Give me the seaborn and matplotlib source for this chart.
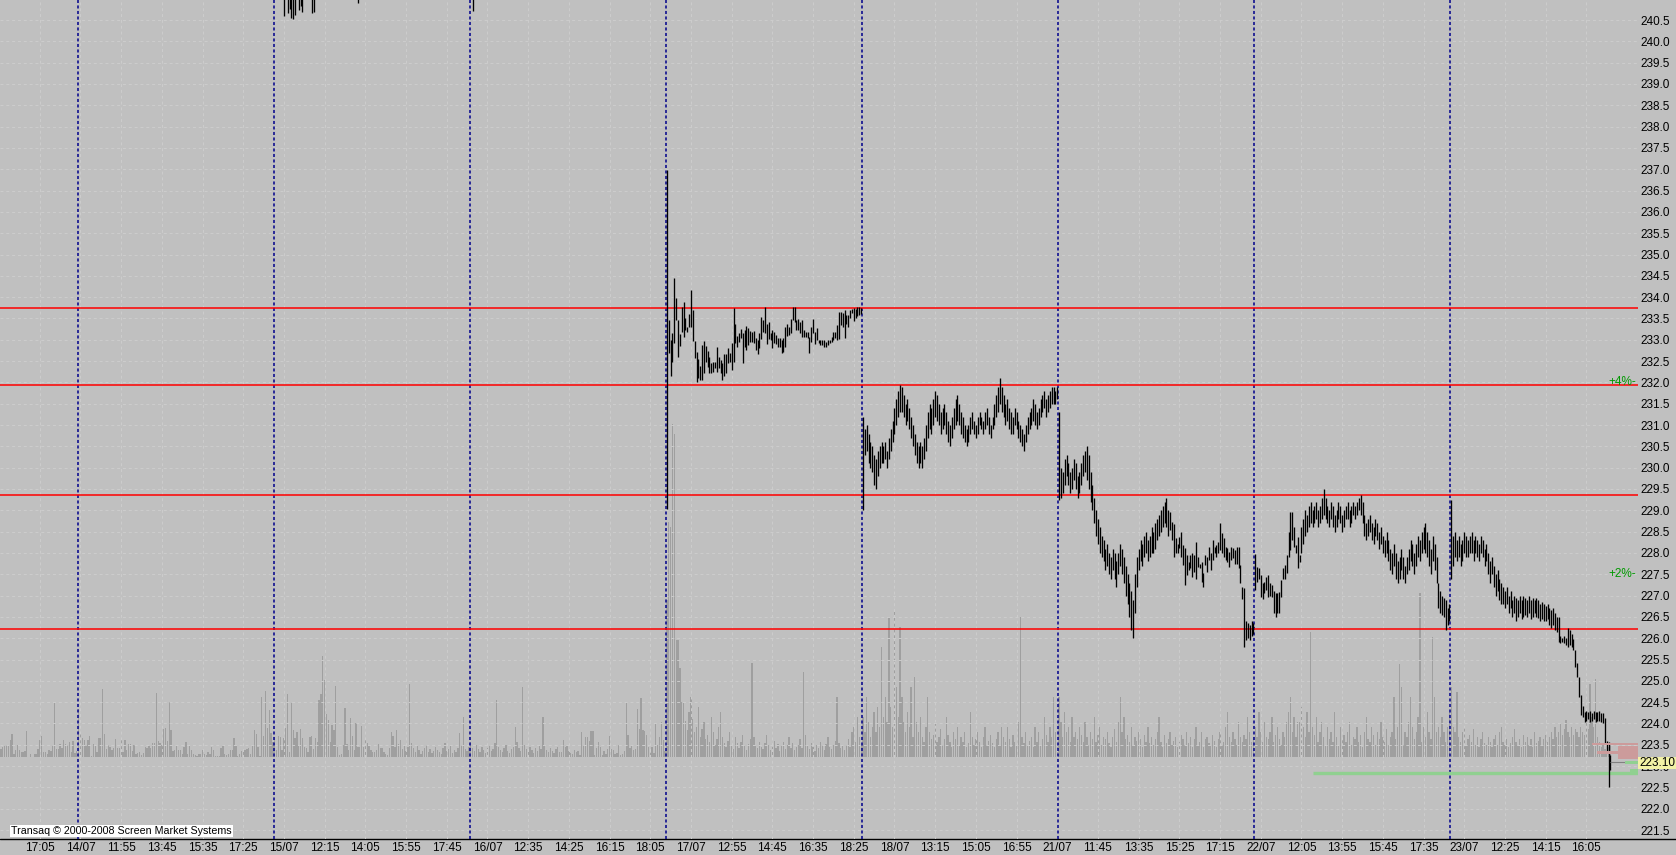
import numpy as np
import pandas as pd
import seaborn as sns
import matplotlib.pyplot as plt
from matplotlib.patches import Rectangle
from matplotlib.lines import Line2D
import matplotlib.transforms as mtransforms

# trading days shown (5 minute bars) and number of bars in each
day_names = ['11/07', '14/07', '15/07', '16/07', '17/07', '18/07', '21/07', '22/07', '23/07']
day_bars = [42, 106, 106, 106, 106, 106, 106, 106, 87]

# high / low of each 5 minute bar (days 11/07 .. 16/07 trade above the visible range)
bars_1707 = [(236.98, 229.02), (233.46, 232.70), (232.99, 232.15), (233.17, 232.49), (234.44, 232.93),
             (233.97, 233.46), (233.46, 232.60), (233.13, 232.86), (233.78, 233.19), (233.89, 233.06),
             (233.50, 233.23), (233.31, 233.19), (233.60, 233.31), (234.17, 233.31), (233.71, 232.97),
             (232.97, 232.58), (232.72, 232.00), (232.55, 232.11), (232.38, 232.05), (232.88, 232.05),
             (232.97, 232.21), (232.85, 232.48), (232.73, 232.35), (232.60, 232.23), (232.45, 232.23),
             (232.48, 232.25), (232.48, 232.33), (232.82, 232.25), (232.60, 232.33), (232.52, 232.21),
             (232.45, 232.05), (232.67, 232.16), (232.67, 232.21), (232.80, 232.45), (232.68, 232.47),
             (232.92, 232.29), (233.74, 232.49), (233.38, 232.92), (233.10, 232.84), (233.17, 232.95),
             (233.26, 233.03), (233.15, 232.45), (233.23, 232.84), (233.32, 232.76), (233.27, 232.88),
             (233.21, 232.95), (233.19, 232.94), (233.21, 232.92), (233.03, 232.76), (232.99, 232.66),
             (233.17, 232.80), (233.54, 233.01), (233.46, 233.19), (233.78, 233.17), (233.38, 232.90),
             (233.42, 233.01), (233.17, 232.99), (233.23, 232.80), (233.19, 232.93), (233.11, 232.90),
             (233.03, 232.84), (233.03, 232.82), (232.99, 232.68), (233.03, 232.72), (233.31, 232.84),
             (233.38, 233.09), (233.31, 233.11), (233.48, 233.15), (233.78, 233.46), (233.78, 233.42),
             (233.46, 233.23), (233.48, 233.23), (233.42, 233.15), (233.46, 233.07), (233.23, 233.07),
             (233.19, 233.07), (233.19, 233.03), (233.07, 232.68), (233.31, 232.95), (233.48, 233.17),
             (233.19, 232.90), (233.27, 232.99), (232.99, 232.92), (232.99, 232.88), (232.99, 232.88),
             (232.99, 232.84), (232.95, 232.84), (232.99, 232.88), (232.99, 232.92), (233.07, 232.95),
             (233.18, 232.99), (233.19, 233.03), (233.35, 232.99), (233.66, 233.01), (233.66, 233.35),
             (233.62, 233.31), (233.70, 233.03), (233.58, 233.38), (233.58, 233.31), (233.70, 233.50),
             (233.72, 233.62), (233.75, 233.45), (233.72, 233.50), (233.78, 233.55), (233.76, 233.58),
             (233.74, 233.60)]

bars_1807 = [(231.2, 229.0), (230.9, 230.3), (231.0, 230.4), (230.8, 230.1), (230.6, 230.0),
             (230.5, 229.9), (230.3, 229.6), (230.2, 229.5), (230.4, 229.8), (230.5, 230.0),
             (230.6, 230.1), (230.5, 230.1), (230.6, 230.2), (230.4, 230.0), (230.7, 230.2),
             (230.9, 230.4), (231.1, 230.6), (231.4, 230.8), (231.6, 231.0), (231.8, 231.2),
             (231.95, 231.3), (231.9, 231.3), (231.7, 231.2), (231.5, 231.0), (231.6, 231.1),
             (231.4, 230.9), (231.2, 230.7), (231.0, 230.5), (230.8, 230.3), (230.6, 230.1),
             (230.5, 230.0), (230.6, 230.1), (230.5, 230.0), (230.7, 230.2), (231.0, 230.4),
             (231.3, 230.7), (231.5, 230.9), (231.4, 230.8), (231.6, 231.0), (231.8, 231.2),
             (231.7, 231.1), (231.5, 231.0), (231.3, 230.8), (231.4, 230.9), (231.5, 231.0),
             (231.3, 230.8), (231.1, 230.6), (231.0, 230.5), (231.2, 230.7), (231.4, 230.9),
             (231.6, 231.0), (231.7, 231.1), (231.5, 231.0), (231.3, 230.8), (231.2, 230.7),
             (231.0, 230.6), (230.9, 230.5), (231.0, 230.6), (231.2, 230.8), (231.3, 230.9),
             (231.1, 230.8), (231.0, 230.7), (231.2, 230.8), (231.3, 231.0), (231.2, 230.9),
             (231.1, 230.8), (231.3, 230.9), (231.4, 231.0), (231.2, 230.8), (231.0, 230.7),
             (231.2, 230.9), (231.5, 231.0), (231.7, 231.2), (231.9, 231.3), (232.1, 231.5),
             (231.9, 231.3), (231.7, 231.2), (231.5, 231.0), (231.6, 231.1), (231.4, 230.9),
             (231.3, 230.8), (231.2, 230.8), (231.4, 231.0), (231.3, 230.9), (231.1, 230.7),
             (231.0, 230.6), (230.9, 230.5), (230.8, 230.4), (231.0, 230.6), (231.2, 230.8),
             (231.3, 230.9), (231.4, 231.0), (231.6, 231.1), (231.5, 231.0), (231.3, 230.9),
             (231.4, 231.0), (231.6, 231.2), (231.7, 231.3), (231.8, 231.4), (231.6, 231.2),
             (231.7, 231.3), (231.8, 231.4), (231.9, 231.5), (231.9, 231.5), (231.8, 231.5),
             (231.9, 231.6)]

bars_2107 = [(231.3, 229.25), (230.0, 229.3), (229.9, 229.4), (230.2, 229.6), (230.3, 229.8),
             (230.1, 229.6), (229.9, 229.4), (230.0, 229.5), (230.2, 229.7), (230.1, 229.5),
             (229.8, 229.3), (229.9, 229.4), (230.1, 229.6), (230.3, 229.8), (230.4, 229.9),
             (230.5, 229.7), (230.3, 229.5), (229.9, 229.2), (229.6, 229.0), (229.3, 228.7),
             (229.0, 228.4), (228.8, 228.2), (228.6, 228.0), (228.4, 227.9), (228.3, 227.8),
             (228.1, 227.6), (228.2, 227.7), (228.0, 227.5), (227.9, 227.4), (228.1, 227.6),
             (228.0, 227.4), (227.8, 227.2), (228.0, 227.5), (228.2, 227.7), (228.1, 227.5),
             (227.9, 227.3), (227.7, 227.0), (227.5, 226.8), (227.3, 226.5), (227.1, 226.2),
             (226.9, 226.0), (227.5, 226.6), (227.9, 227.2), (228.1, 227.6), (228.3, 227.8),
             (228.2, 227.7), (228.4, 227.9), (228.5, 228.0), (228.3, 227.8), (228.4, 227.9),
             (228.6, 228.0), (228.5, 228.0), (228.7, 228.1), (228.8, 228.3), (228.9, 228.4),
             (229.0, 228.5), (229.1, 228.6), (229.2, 228.7), (229.3, 228.6), (229.0, 228.4),
             (228.97, 228.54), (228.73, 228.30), (228.69, 227.91), (228.34, 227.99), (228.22, 227.99),
             (228.38, 228.11), (228.50, 227.91), (228.19, 227.72), (228.11, 227.25), (227.95, 227.48),
             (227.79, 227.60), (227.95, 227.64), (227.99, 227.44), (227.95, 227.56), (228.26, 227.40),
             (227.91, 227.68), (227.75, 227.64), (227.79, 227.33), (227.52, 227.21), (227.95, 227.72),
             (227.91, 227.56), (228.15, 227.83), (227.99, 227.60), (228.30, 227.83), (228.15, 227.99),
             (228.19, 227.91), (228.26, 227.99), (228.71, 228.07), (228.46, 227.99), (228.34, 227.91),
             (228.15, 227.83), (228.11, 227.79), (228.03, 227.68), (228.15, 227.83), (228.11, 227.87),
             (228.07, 227.75), (228.15, 227.75), (228.15, 227.64), (227.72, 227.29), (227.21, 226.93),
             (227.17, 225.80), (226.40, 225.95), (226.35, 226.00), (226.30, 225.95), (226.40, 226.05),
             (226.35, 226.10)]

bars_2207 = [(227.97, 227.13), (227.68, 227.33), (227.64, 227.40), (227.48, 226.97), (227.29, 226.93),
             (227.33, 227.05), (227.44, 227.13), (227.48, 226.97), (227.30, 227.00), (227.25, 226.97),
             (227.10, 226.60), (227.05, 226.50), (227.07, 226.60), (227.09, 226.60), (227.36, 226.97),
             (227.64, 227.40), (227.72, 227.40), (227.95, 227.52), (228.50, 227.91), (228.97, 228.07),
             (228.97, 228.30), (228.60, 228.15), (228.19, 227.99), (228.38, 227.64), (227.95, 227.79),
             (228.6, 228.0), (228.8, 228.2), (229.0, 228.4), (228.9, 228.5), (229.1, 228.6),
             (229.2, 228.7), (229.0, 228.6), (229.1, 228.7), (229.2, 228.8), (229.0, 228.6),
             (229.1, 228.7), (229.3, 228.8), (229.5, 228.9), (229.3, 228.8), (229.1, 228.7),
             (229.0, 228.6), (229.2, 228.8), (229.1, 228.6), (228.9, 228.5), (229.0, 228.6),
             (229.2, 228.8), (229.1, 228.7), (228.9, 228.5), (229.0, 228.6), (229.1, 228.8),
             (229.2, 228.8), (229.0, 228.6), (229.1, 228.7), (229.2, 228.9), (229.1, 228.8),
             (229.2, 228.9), (229.3, 229.0), (229.35, 228.9), (229.2, 228.7), (228.9, 228.4),
             (228.7, 228.3), (228.8, 228.4), (228.9, 228.5), (228.7, 228.3), (228.6, 228.2),
             (228.8, 228.4), (228.7, 228.3), (228.5, 228.1), (228.6, 228.2), (228.4, 228.0),
             (228.3, 227.9), (228.5, 228.0), (228.3, 227.8), (228.1, 227.6), (228.0, 227.5),
             (228.2, 227.7), (228.0, 227.4), (227.8, 227.3), (227.9, 227.4), (228.1, 227.6),
             (227.9, 227.4), (227.7, 227.3), (227.9, 227.5), (228.1, 227.6), (228.3, 227.8),
             (228.2, 227.7), (228.0, 227.5), (228.2, 227.7), (228.4, 227.9), (228.3, 227.8),
             (228.5, 228.0), (228.6, 228.1), (228.7, 228.0), (228.5, 227.9), (228.3, 227.7),
             (228.1, 227.5), (228.4, 227.8), (228.2, 227.6), (227.9, 227.3), (227.3, 226.7),
             (227.1, 226.6), (227.0, 226.55), (226.95, 226.5), (226.9, 226.2), (226.7, 226.3),
             (226.8, 226.4)]

bars_2307 = [(229.25, 227.4), (228.4, 227.7), (228.5, 227.9), (228.3, 227.8), (228.4, 227.9),
             (228.2, 227.7), (228.3, 227.8), (228.5, 228.0), (228.4, 227.9), (228.3, 227.9),
             (228.4, 228.0), (228.5, 228.0), (228.3, 227.8), (228.4, 228.0), (228.3, 227.9),
             (228.2, 227.8), (228.4, 228.0), (228.3, 227.9), (228.1, 227.7), (228.2, 227.8),
             (228.0, 227.5), (227.8, 227.3), (227.9, 227.5), (227.7, 227.2), (227.5, 227.0),
             (227.6, 227.1), (227.4, 226.9), (227.3, 226.8), (227.2, 226.8), (227.1, 226.7),
             (227.2, 226.8), (227.0, 226.6), (227.1, 226.7), (226.9, 226.5), (227.0, 226.6),
             (226.95, 226.4), (226.9, 226.5), (227.0, 226.6), (226.9, 226.45), (227.0, 226.5),
             (226.95, 226.55), (226.9, 226.5), (227.0, 226.6), (226.9, 226.45), (226.95, 226.5),
             (226.9, 226.6), (226.95, 226.5), (226.9, 226.47), (226.8, 226.4), (226.85, 226.45),
             (226.8, 226.4), (226.75, 226.4), (226.8, 226.45), (226.7, 226.3), (226.65, 226.25),
             (226.7, 226.3), (226.6, 226.2), (226.5, 226.15), (226.5, 225.92), (226.04, 225.88),
             (226.0, 225.9), (226.04, 225.88), (226.0, 225.85), (226.23, 225.8), (226.2, 225.85),
             (226.1, 225.8), (225.99, 225.72), (225.72, 225.33), (225.41, 225.1), (225.1, 224.63),
             (224.67, 224.2), (224.4, 224.16), (224.28, 224.04), (224.3, 224.05), (224.28, 224.1),
             (224.3, 224.04), (224.25, 224.05), (224.3, 224.1), (224.28, 224.04), (224.27, 224.06),
             (224.3, 224.05), (224.25, 224.04), (224.24, 224.0), (224.12, 223.53), (223.6, 223.3),
             (223.57, 222.5), (223.26, 222.91)]

# bars of 15/07 and 16/07 whose low just reaches the top of the window: {bar of day: low}
tops_1507 = {5: 240.60, 7: 240.66, 8: 240.75, 9: 240.54, 10: 240.52, 11: 240.62, 13: 240.73,
             14: 240.83, 15: 240.70, 20: 240.67, 21: 240.70, 45: 240.91}
tops_1607 = {1: 240.72}

# volume of each bar
vol_1107 = [8, 10, 11, 12, 12, 17, 23, 3, 7, 12, 7, 5, 5, 6, 26, 0, 3, 0, 3, 3, 8, 17, 21, 5, 5, 3, 7, 6, 11, 54,
            8, 8, 13, 9, 17, 13, 12, 15, 5, 16, 4, 6]
vol_1407 = [48, 25, 19, 17, 11, 17, 21, 1, 13, 11, 5, 19, 19, 68, 23, 8, 12, 10, 7, 9, 18, 9, 9, 17, 5, 17, 7, 13,
            13, 6, 12, 3, 4, 5, 2, 4, 10, 9, 11, 9, 14, 14, 64, 16, 14, 12, 28, 29, 16, 55, 27, 6, 7, 11, 7, 7, 3,
            10, 15, 3, 11, 7, 3, 2, 1, 3, 3, 7, 3, 2, 5, 3, 10, 7, 1, 1, 1, 9, 12, 3, 2, 3, 7, 7, 19, 11, 1, 3, 6,
            6, 7, 8, 9, 3, 11, 27, 23, 10, 1, 60, 21, 66, 29, 47, 24, 15]
vol_1507 = [20, 7, 21, 20, 7, 19, 29, 63, 5, 54, 27, 19, 25, 11, 28, 19, 10, 9, 5, 20, 21, 8, 19, 15, 57, 63, 101,
            77, 43, 37, 15, 32, 27, 71, 10, 2, 3, 12, 49, 13, 7, 39, 21, 7, 34, 10, 10, 31, 10, 17, 14, 12, 7, 5,
            5, 7, 13, 9, 9, 5, 3, 2, 9, 25, 21, 10, 27, 13, 17, 8, 12, 6, 10, 73, 14, 9, 5, 11, 7, 3, 6, 9, 12, 5,
            8, 4, 6, 10, 7, 5, 3, 9, 14, 6, 8, 11, 4, 7, 5, 9, 24, 12, 40, 8, 6, 10]
vol_1607 = [15, 9, 6, 12, 8, 5, 10, 7, 4, 9, 11, 6, 8, 14, 57, 10, 7, 5, 9, 12, 6, 4, 8, 10, 30, 15, 9, 6, 70, 12,
            8, 5, 10, 7, 4, 9, 6, 11, 8, 40, 12, 7, 5, 9, 6, 4, 8, 10, 5, 5, 17, 10, 11, 6, 4, 3, 7, 5, 6, 2, 25,
            11, 20, 20, 16, 26, 26, 2, 9, 15, 10, 2, 6, 3, 8, 21, 8, 7, 3, 4, 12, 2, 3, 6, 55, 22, 9, 12, 7, 8, 48,
            28, 59, 27, 26, 22, 10, 4, 10, 4, 33, 12, 20, 35, 17, 6]
vol_1707 = [157, 235, 230, 333, 323, 117, 117, 89, 55, 55, 36, 27, 45, 60, 38, 25, 30, 50, 20, 28, 35, 18, 22, 15,
            40, 25, 12, 18, 30, 45, 20, 14, 10, 16, 25, 12, 8, 20, 14, 9, 15, 22, 11, 7, 13, 18, 94, 20, 12, 9, 15,
            10, 8, 14, 22, 12, 7, 10, 16, 9, 13, 6, 11, 15, 8, 12, 20, 9, 14, 7, 10, 12, 18, 9, 85, 22, 11, 8, 14,
            10, 6, 12, 9, 15, 11, 7, 13, 20, 10, 8, 12, 16, 60, 14, 9, 11, 7, 12, 18, 10, 25, 30, 15, 40, 20, 12]
vol_1807 = [40, 25, 60, 35, 20, 30, 45, 25, 50, 30, 110, 40, 60, 35, 140, 50, 30, 145, 70, 40, 130, 60, 35, 25,
            45, 30, 70, 20, 80, 35, 25, 40, 20, 15, 30, 60, 25, 18, 22, 35, 15, 20, 28, 12, 18, 40, 22, 15, 10, 25,
            18, 30, 12, 20, 15, 25, 10, 14, 45, 20, 12, 18, 25, 15, 10, 20, 30, 12, 16, 22, 14, 10, 18, 25, 12, 30,
            20, 15, 30, 18, 10, 22, 15, 12, 35, 140, 20, 14, 25, 12, 16, 20, 10, 30, 15, 25, 12, 18, 40, 22, 15, 30,
            20, 60, 25, 10]
vol_2107 = [60, 35, 20, 45, 25, 30, 15, 40, 20, 25, 18, 30, 22, 15, 35, 20, 12, 25, 18, 40, 15, 22, 30, 12, 20,
            18, 25, 14, 10, 20, 28, 15, 35, 60, 25, 40, 18, 22, 15, 30, 12, 20, 16, 25, 18, 10, 22, 15, 30, 14, 20,
            12, 18, 25, 40, 15, 10, 22, 14, 18, 25, 12, 16, 20, 10, 15, 22, 18, 12, 25, 14, 20, 10, 18, 30, 12, 15,
            25, 10, 18, 20, 14, 12, 22, 16, 10, 18, 25, 12, 15, 30, 45, 20, 15, 25, 18, 12, 35, 20, 15, 22, 18, 40,
            25, 15, 20]
vol_2207 = [30, 20, 45, 25, 15, 35, 20, 18, 25, 40, 15, 22, 30, 18, 12, 25, 20, 35, 45, 60, 25, 40, 20, 35, 35,
            50, 30, 20, 45, 25, 125, 30, 22, 40, 15, 25, 35, 20, 12, 30, 18, 25, 15, 45, 20, 12, 30, 18, 22, 15, 25,
            35, 12, 20, 18, 30, 15, 22, 10, 25, 40, 18, 15, 30, 22, 12, 25, 18, 35, 20, 15, 28, 12, 20, 25, 60, 18,
            30, 93, 70, 12, 25, 20, 35, 60, 30, 18, 25, 40, 164, 15, 30, 20, 45, 25, 18, 120, 60, 25, 30, 20, 40, 25,
            15, 30, 45]
vol_2307 = [70, 30, 25, 65, 20, 15, 25, 30, 12, 18, 22, 15, 28, 12, 20, 10, 18, 25, 14, 12, 20, 15, 10, 18, 22,
            12, 25, 30, 15, 12, 18, 10, 14, 20, 28, 15, 12, 18, 10, 22, 15, 20, 12, 18, 10, 25, 14, 16, 20, 12, 18,
            22, 15, 20, 25, 18, 30, 20, 25, 34, 22, 28, 37, 25, 20, 30, 22, 28, 25, 20, 30, 25, 22, 35, 28, 73, 40,
            30, 78, 20, 15, 10, 12, 8, 6, 10, 12]

# x axis labels, one every 22 bars
tick_labels = ['17:05', '14/07', '11:55', '13:45', '15:35', '17:25', '15/07', '12:15', '14:05', '15:55', '17:45',
               '16/07', '12:35', '14:25', '16:15', '18:05', '17/07', '12:55', '14:45', '16:35', '18:25', '18/07',
               '13:15', '15:05', '16:55', '21/07', '11:45', '13:35', '15:25', '17:15', '22/07', '12:05', '13:55',
               '15:45', '17:35', '23/07', '12:25', '14:15', '16:05']

# horizontal levels
red_levels = [233.74, 231.93, 229.35, 226.21]
green_level = 222.83
green_from_bar = 709
last_price = 223.10
pct_marks = {'+4%-': 232.0, '+2%-': 227.5}
# order book at the right edge: price -> size
book_ask = {223.52: 46, 223.45: 20, 223.40: 20, 223.35: 20, 223.32: 41, 223.25: 20, 223.20: 20}
book_bid = {223.08: 13, 222.90: 8}

# ---- build tables ----
starts = np.concatenate([[0], np.cumsum(day_bars)[:-1]])
start_of = dict(zip(day_names, starts))

price_rows = []
for day, bars in [('17/07', bars_1707), ('18/07', bars_1807), ('21/07', bars_2107),
                  ('22/07', bars_2207), ('23/07', bars_2307)]:
    for k, (h, l) in enumerate(bars):
        price_rows.append((start_of[day] + k, h, l))
for day, tops in [('15/07', tops_1507), ('16/07', tops_1607)]:
    for k, l in tops.items():
        price_rows.append((start_of[day] + k, 242.0, l))
price = pd.DataFrame(price_rows, columns=['bar', 'high', 'low'])

vols = vol_1107 + vol_1407 + vol_1507 + vol_1607 + vol_1707 + vol_1807 + vol_2107 + vol_2207 + vol_2307
volume = pd.DataFrame({'bar': np.arange(len(vols)), 'vol': vols})

# ---- figure ----
W, H = 1676, 855
plot_w, plot_h, bottom_px = 1638, 839, 16
bar_px = 1.85
bg = '#c0c0c0'

sns.set_style('white')
plt.rcParams['font.family'] = ['Liberation Sans', 'DejaVu Sans']

fig = plt.figure(figsize=(W / 100, H / 100), dpi=100, facecolor=bg)
ax = fig.add_axes([0, bottom_px / H, plot_w / W, plot_h / H])
ax_vol = ax.twinx()
ax.set_zorder(2)
ax_vol.set_zorder(1)
ax.patch.set_visible(False)
ax_vol.patch.set_facecolor(bg)

# volume
sns.barplot(data=volume, x='bar', y='vol', native_scale=True, orient='x', ax=ax_vol,
            color='#9f9f9f', saturation=1, width=0.7, linewidth=0, errorbar=None)
base_px = plot_h - 756.7
ax_vol.set_ylim(-base_px, plot_h - base_px)
ax_vol.set_yticks([])
ax_vol.set_ylabel('')
ax_vol.set_xlabel('')
for s in ax_vol.spines.values():
    s.set_visible(False)

# grid
x_min, x_max = -0.5, plot_w / bar_px - 0.5
ax.set_xlim(x_min, x_max)
ax.set_ylim(221.29, 240.97)
ax.set_yticks(np.arange(221.5, 240.51, 0.5))
ax.set_yticklabels(['%.1f' % v for v in np.arange(221.5, 240.51, 0.5)])
ax.set_xticks(21 + 22 * np.arange(len(tick_labels)))
ax.set_xticklabels(tick_labels)
ax.grid(True, color='#cdcdcd', linestyle=(0, (3, 3)), linewidth=0.7)
ax.set_axisbelow(True)
ax.yaxis.tick_right()
ax.tick_params(axis='y', length=0, pad=1.5, labelsize=8.5, colors='black')
ax.tick_params(axis='x', length=0, pad=2.5, labelsize=8.5, colors='black')
for s in ax.spines.values():
    s.set_visible(False)

# day separators
for st in starts[1:]:
    ax.axvline(st - 0.5, color='#00008b', linestyle=(0, (2, 1.6)), linewidth=1.1, zorder=3)

# horizontal levels
for lv in red_levels:
    ax.axhline(lv, color='#ff0000', linewidth=1.1, zorder=3)
ax.hlines(green_level, green_from_bar, x_max, color='#90d090', linewidth=2.4, zorder=3)

# price bars
ax.vlines(price['bar'], price['low'], price['high'], color='black', linewidth=0.95, zorder=4)

# last price line
last_bar = len(vols) - 1
ax.hlines(last_price, last_bar, x_max, color='#808080', linewidth=0.8, zorder=4)

# order book blocks on the right edge
blend = mtransforms.blended_transform_factory(ax.transAxes, ax.transData)
for p, sz in book_ask.items():
    ax.add_patch(Rectangle((1 - sz / plot_w, p - 0.03), sz / plot_w, 0.06, transform=blend,
                           facecolor='#cc9b9b', edgecolor='none', zorder=5))
for p, sz in book_bid.items():
    ax.add_patch(Rectangle((1 - sz / plot_w, p - 0.03), sz / plot_w, 0.06, transform=blend,
                           facecolor='#90d090', edgecolor='none', zorder=5))

# percentage marks
for txt, p in pct_marks.items():
    ax.text(0.999, p, txt, transform=blend, ha='right', va='center', color='#009900', fontsize=8.5, zorder=6)

# last price tag (covers the 223.0 label as in the terminal)
fig.patches.append(Rectangle((plot_w / W, (H - 768.5) / H), (W - plot_w) / W, 11.5 / H,
                             transform=fig.transFigure, facecolor='#f2f2a6', edgecolor='none', zorder=9))
fig.text((plot_w + 1.5) / W, (H - 762.8) / H, '%.2f' % last_price, ha='left', va='center', fontsize=8.5,
         color='black', zorder=10)

# bottom axis line across the whole window
fig.add_artist(Line2D([0, 1], [bottom_px / H, bottom_px / H], color='black', linewidth=1.0))

# copyright box
fig.text(11 / W, (H - 831) / H, 'Transaq \u00a9 2000-2008 Screen Market Systems', ha='left', va='center',
         fontsize=7.7, color='black', zorder=10,
         bbox=dict(boxstyle='square,pad=0.12', facecolor='white', edgecolor='none'))

fig.savefig('out.png', dpi=100, facecolor=bg)
